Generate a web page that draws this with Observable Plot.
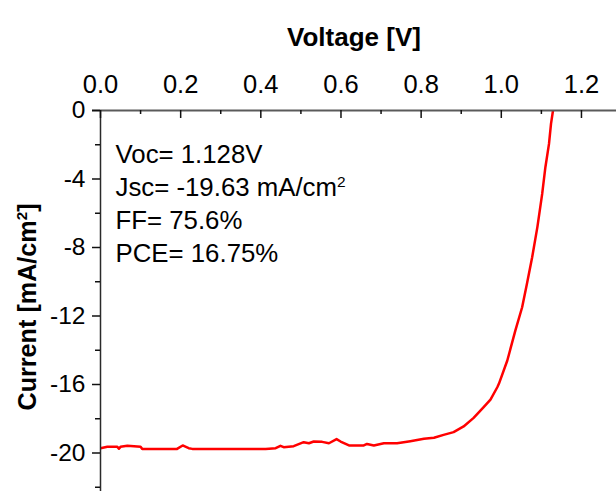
<!DOCTYPE html>
<html><head><meta charset="utf-8">
<script src="https://cdn.jsdelivr.net/npm/d3@7"></script>
<script src="https://cdn.jsdelivr.net/npm/@observablehq/plot@0.6"></script>
<style>html,body{margin:0;padding:0;background:#fff}#chart svg{display:block}</style>
</head><body><div id="chart"></div>
<script>
const voltage = [0.000,0.017,0.042,0.046,0.050,0.067,0.100,0.104,0.191,0.205,0.220,0.229,0.412,0.437,0.449,0.457,0.482,0.507,0.520,0.532,0.553,0.570,0.589,0.599,0.620,0.657,0.665,0.682,0.707,0.740,0.773,0.807,0.832,0.856,0.881,0.906,0.931,0.956,0.973,0.990,0.994,1.015,1.035,1.052,1.064,1.077,1.090,1.102,1.110,1.119,1.124,1.129];
const current = [-19.72,-19.64,-19.64,-19.75,-19.64,-19.58,-19.64,-19.76,-19.76,-19.56,-19.72,-19.76,-19.76,-19.72,-19.58,-19.66,-19.60,-19.37,-19.43,-19.33,-19.35,-19.43,-19.19,-19.33,-19.56,-19.56,-19.47,-19.56,-19.43,-19.43,-19.31,-19.17,-19.11,-18.94,-18.78,-18.45,-17.95,-17.32,-16.88,-16.16,-15.96,-14.60,-12.85,-11.49,-10.12,-8.57,-6.81,-4.87,-3.31,-1.95,-0.78,0.00];
const xMajorTicks = [0,0.2,0.4,0.6,0.8,1.0,1.2];
const xMinorTicks = [0.1,0.3,0.5,0.7,0.9,1.1];
const xTickLabels = ["0.0","0.2","0.4","0.6","0.8","1.0","1.2"];
const yMajorTicks = [0,-4,-8,-12,-16,-20];
const yMinorTicks = [-2,-6,-10,-14,-18,-22];
const yTickLabels = ["0","-4","-8","-12","-16","-20"];
const annotations = ["Voc= 1.128V","Jsc= -19.63 mA/cm²","FF= 75.6%","PCE= 16.75%"];
const xTitle = "Voltage [V]";
const yTitle = "Current [mA/cm²]";

const W = 616, H = 491, mL = 100, mT = 110;
const frameW = W - mL, frameH = H - mT;
const data = voltage.map((v, i) => ({v, j: current[i]}));

const chart = Plot.plot({
  width: W, height: H,
  marginLeft: mL, marginTop: mT, marginRight: 0, marginBottom: 0,
  style: {fontFamily: "Arial, 'Liberation Sans', sans-serif", background: "#fff", color: "#000", overflow: "visible"},
  x: {domain: [0, frameW / 400.8], axis: null},
  y: {domain: [-frameH / 17.125, 0], axis: null},
  marks: [
    Plot.line(data, {x: "v", y: "j", stroke: "#ff0000", strokeWidth: 2.5, clip: true}),
    Plot.ruleY([0], {stroke: "#5a5a5a", strokeWidth: 2, insetLeft: -8}),
    Plot.ruleX([0], {stroke: "#2a2a2a", strokeWidth: 1.5}),
    Plot.tickX(xMajorTicks, {x: d => d, stroke: "#111", strokeWidth: 1.5, insetBottom: frameH - 8}),
    Plot.tickX(xMinorTicks, {x: d => d, stroke: "#111", strokeWidth: 1.5, insetBottom: frameH - 4}),
    Plot.tickY(yMajorTicks, {y: d => d, stroke: "#111", strokeWidth: 1.5, insetLeft: -8, insetRight: frameW}),
    Plot.tickY(yMinorTicks, {y: d => d, stroke: "#111", strokeWidth: 1.5, insetLeft: -5, insetRight: frameW}),
    Plot.text(xMajorTicks, {x: d => d, text: (d, i) => xTickLabels[i], frameAnchor: "top", textAnchor: "middle", dy: -36, fontSize: 25.5}),
    Plot.text(yMajorTicks, {y: d => d, text: (d, i) => yTickLabels[i], frameAnchor: "left", textAnchor: "end", dx: -15, fontSize: 24.5}),
    Plot.text([xTitle], {frameAnchor: "top", textAnchor: "middle", dx: -4.5, dy: -83, fontSize: 26, fontWeight: "bold"}),
    Plot.text([yTitle], {frameAnchor: "left", textAnchor: "middle", rotate: -90, dx: -73, dy: 6, fontSize: 25.2, fontWeight: "bold"}),
    Plot.text([annotations.join("\n")], {frameAnchor: "top-left", textAnchor: "start", lineAnchor: "top", lineHeight: 1.29, dx: 15, dy: 28.4, fontSize: 25.8})
  ]
});
document.getElementById("chart").appendChild(chart);

// Render "²" as a real superscript 2 (text stays text); baseline-shift does not move later lines
d3.select(chart).selectAll("text, tspan").each(function() {
  if (this.children.length) return;
  const t = this.textContent;
  if (!t.includes("²")) return;
  const fs = parseFloat(getComputedStyle(this).fontSize);
  const [before, after] = t.split("²");
  this.textContent = before;
  const sel = d3.select(this);
  sel.append("tspan").attr("font-size", fs * 0.6).attr("baseline-shift", fs * 0.36).text("2");
  if (after) sel.append("tspan").text(after);
});
</script>
</body></html>
